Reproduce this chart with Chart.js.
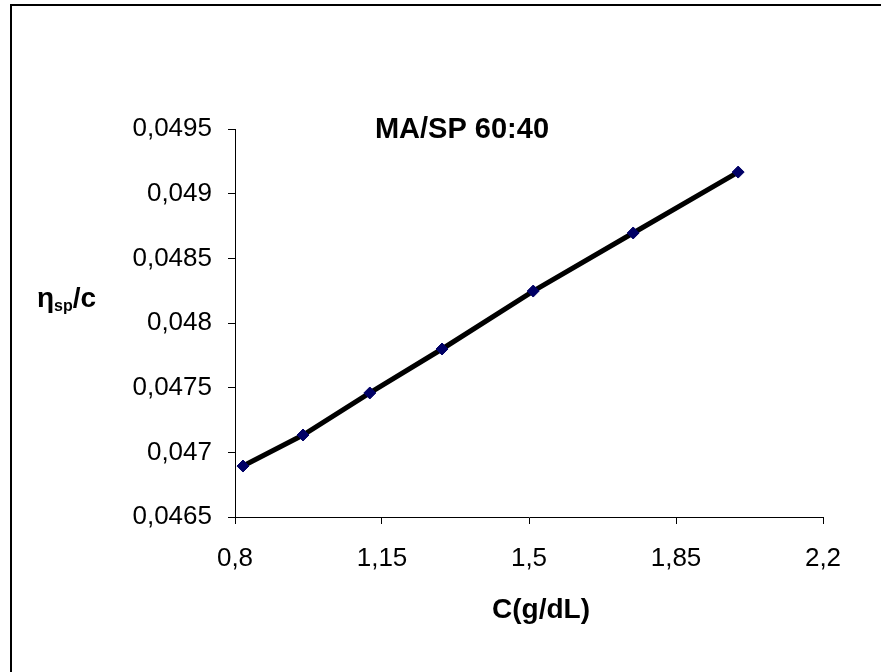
<!DOCTYPE html>
<html>
<head>
    <title>MA/SP 60:40</title>
    <script src="https://cdn.jsdelivr.net/npm/chart.js"></script>
    <style>
        html, body { margin: 0; padding: 0; background: #fff; }
        #wrap { position: relative; width: 881px; height: 672px; }
        #frame { position: absolute; left: 10px; top: 4px; right: -5px; bottom: -5px; border-left: 2px solid #000; border-top: 2px solid #000; }
    </style>
</head>
<body>
<div id="wrap">
    <canvas id="viscChart" width="881" height="672"></canvas>
    <div id="frame"></div>
</div>

<script>
    const chartTitle = 'MA/SP 60:40';
    const xTitle = 'C(g/dL)';
    const concentration = [0.819, 0.962, 1.121, 1.293, 1.510, 1.748, 1.998];
    const reducedVisc = [0.046894, 0.047134, 0.047459, 0.047799, 0.048247, 0.048696, 0.049167];
    const xTicks = [0.8, 1.15, 1.5, 1.85, 2.2];
    const yTicks = [0.0465, 0.047, 0.0475, 0.048, 0.0485, 0.049, 0.0495];

    const fontFamily = '"Liberation Sans", Arial, sans-serif';
    const comma = v => String(+v.toFixed(4)).replace('.', ',');

    // titles are drawn by hand, the y one needs a subscript and stays horizontal
    const titlesPlugin = {
        id: 'titles',
        afterDraw(chart) {
            const ctx = chart.ctx;
            ctx.save();
            ctx.fillStyle = '#000';
            ctx.textBaseline = 'alphabetic';

            ctx.font = 'bold 29px ' + fontFamily;
            ctx.textAlign = 'center';
            ctx.fillText(chartTitle, 462, 138);

            ctx.font = 'bold 28px ' + fontFamily;
            ctx.fillText(xTitle, 541, 618);

            ctx.textAlign = 'left';
            let x = 37;
            ctx.font = 'bold 28px ' + fontFamily;
            ctx.fillText('η', x, 307);
            x += ctx.measureText('η').width;
            ctx.font = 'bold 16px ' + fontFamily;
            ctx.fillText('sp', x, 311);
            x += ctx.measureText('sp').width;
            ctx.font = 'bold 28px ' + fontFamily;
            ctx.fillText('/c', x, 307);
            ctx.restore();
        }
    };

    const points = concentration.map((c, i) => ({ x: c, y: reducedVisc[i] }));

    new Chart(document.getElementById('viscChart'), {
        type: 'scatter',
        data: {
            datasets: [{
                data: points,
                showLine: true,
                borderColor: '#000',
                borderWidth: 5,
                pointStyle: 'rectRot',
                pointRadius: 6,
                pointBackgroundColor: '#000066',
                pointBorderColor: '#000066',
                pointBorderWidth: 1
            }]
        },
        options: {
            responsive: false,
            animation: false,
            layout: { padding: { left: 0, top: 129, right: 58, bottom: 0 } },
            plugins: {
                legend: { display: false },
                tooltip: { enabled: false }
            },
            scales: {
                x: {
                    type: 'linear',
                    min: 0.8,
                    max: 2.2,
                    afterBuildTicks: s => { s.ticks = xTicks.map(v => ({ value: v })); },
                    afterFit: s => { s.height = 155; },
                    ticks: {
                        callback: v => comma(v),
                        color: '#000',
                        padding: 19,
                        maxRotation: 0,
                        font: { family: fontFamily, size: 26 }
                    },
                    grid: { drawOnChartArea: false, drawTicks: true, tickLength: 7, color: '#000' },
                    border: { display: true, color: '#000', width: 1 }
                },
                y: {
                    type: 'linear',
                    min: 0.0465,
                    max: 0.0495,
                    afterBuildTicks: s => { s.ticks = yTicks.map(v => ({ value: v })); },
                    afterFit: s => { s.width = 235; },
                    ticks: {
                        callback: v => comma(v),
                        color: '#000',
                        padding: 16,
                        font: { family: fontFamily, size: 26 }
                    },
                    grid: { drawOnChartArea: false, drawTicks: true, tickLength: 7, color: '#000' },
                    border: { display: true, color: '#000', width: 1 }
                }
            }
        },
        plugins: [titlesPlugin]
    });
</script>
</body>
</html>
